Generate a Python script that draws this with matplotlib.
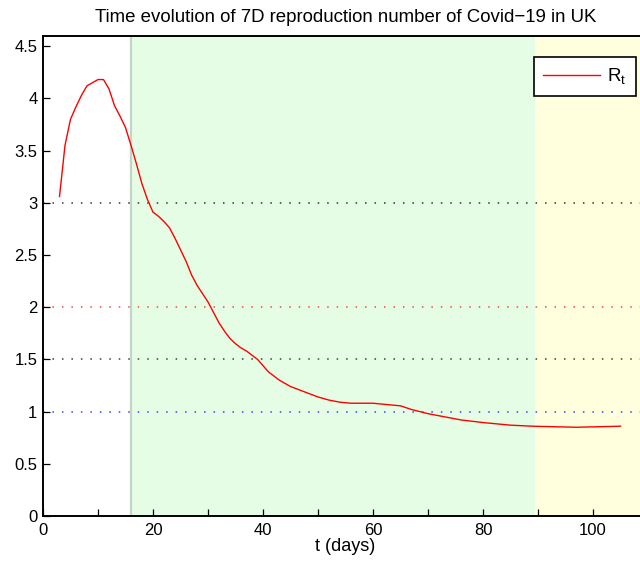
import matplotlib
matplotlib.use("Agg")
import matplotlib.pyplot as plt
from matplotlib.ticker import MultipleLocator

plt.rcParams["font.family"] = ["Liberation Sans", "DejaVu Sans"]
plt.rcParams["mathtext.fontset"] = "custom"
plt.rcParams["mathtext.rm"] = "Liberation Sans"

# 7-day reproduction number
days = [3, 4, 5, 6, 7, 8, 9, 10, 11, 12, 13, 14, 15, 16, 17, 18, 19, 20,
        21, 22, 23, 24, 25, 26, 27, 28, 29, 30, 31, 32, 33, 34, 35, 36, 37,
        38, 39, 40, 41, 42, 43, 44, 45, 46, 47, 48, 49, 50, 52, 54, 56, 60,
        62, 65, 67, 70, 73, 76, 80, 85, 89, 93, 97, 101, 105]
r_t = [3.06, 3.55, 3.80, 3.92, 4.03, 4.12, 4.15, 4.18, 4.18, 4.09, 3.93,
       3.83, 3.72, 3.55, 3.37, 3.18, 3.03, 2.91, 2.87, 2.82, 2.76, 2.66,
       2.55, 2.44, 2.31, 2.21, 2.13, 2.05, 1.95, 1.85, 1.77, 1.70, 1.65,
       1.61, 1.58, 1.54, 1.50, 1.44, 1.38, 1.34, 1.30, 1.27, 1.24, 1.22,
       1.20, 1.18, 1.16, 1.14, 1.11, 1.09, 1.08, 1.08, 1.07, 1.055, 1.02,
       0.98, 0.95, 0.92, 0.895, 0.87, 0.86, 0.855, 0.85, 0.855, 0.86]

# phase boundaries (days)
phase_start = 16
phase_change = 89.5
x_max = 110

# reference levels and their line colours
ref_levels = [3, 2, 1.5, 1]
ref_colors = ["#333333", "#ff4444", "#334433", "#3344ff"]

fig = plt.figure(figsize=(6.4, 5.64), dpi=100)
ax = fig.add_axes([0.0672, 0.0851, 0.9453, 0.8516])

ax.axvspan(phase_start, phase_change, color="#e5fde5", lw=0, zorder=0)
ax.axvspan(phase_change, x_max, color="#ffffde", lw=0, zorder=0)
ax.axvline(phase_start, color="#c5d5c5", lw=1.6, zorder=1)

for lvl, c in zip(ref_levels, ref_colors):
    ax.axhline(lvl, color=c, lw=1.1, ls=(0, (1, 5.2)), zorder=1)

ax.plot(days, r_t, color="red", lw=1.0, label=r"R$_{\rm t}$", zorder=3)

ax.set_xlim(0, x_max)
ax.set_ylim(0, 4.6)
ax.xaxis.set_major_locator(MultipleLocator(20))
ax.xaxis.set_minor_locator(MultipleLocator(10))
ax.set_yticks([0, 0.5, 1, 1.5, 2, 2.5, 3, 3.5, 4, 4.5])
ax.set_yticklabels(["0", "0.5", "1", "1.5", "2", "2.5", "3", "3.5", "4", "4.5"])

ax.tick_params(axis="both", which="both", direction="in", length=5,
               width=0.9, labelsize=12, top=False, right=False, pad=4)
ax.tick_params(axis="x", pad=5)
for side in ["left", "bottom", "top"]:
    ax.spines[side].set_linewidth(1.4)
ax.spines["right"].set_visible(False)

ax.set_title("Time evolution of 7D reproduction number of Covid\u221219 in UK",
             fontsize=13.4, pad=10)
ax.set_xlabel("t (days)", fontsize=13, labelpad=0)

leg = ax.legend(loc="upper right", bbox_to_anchor=(0.98, 0.956), borderaxespad=0,
                fontsize=13.5, handlelength=3.0, handletextpad=0.4, borderpad=0.5,
                fancybox=False, framealpha=1, edgecolor="black")
leg.get_frame().set_linewidth(1.2)

fig.savefig("out.png", dpi=100)
